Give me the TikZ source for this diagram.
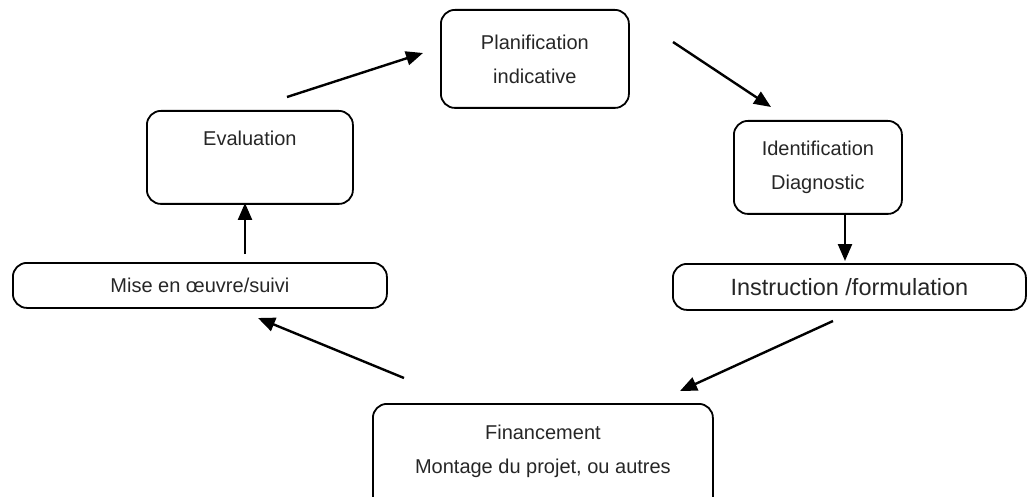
\documentclass[tikz,border=0pt]{standalone}
\usepackage{fontspec}
\setmainfont{Liberation Sans}
\usetikzlibrary{arrows.meta}
\begin{document}
\begin{tikzpicture}[x=1pt,y=-1pt,
  box/.style={draw=black, line width=1.8pt, rounded corners=14pt, inner sep=0pt},
  lbl/.style={font=\fontsize{20}{34}\selectfont, text=black!85, align=center, inner sep=0pt},
  biglbl/.style={font=\fontsize{23.5}{28}\selectfont, text=black!85, align=center, inner sep=0pt},
  arr/.style={line width=2.4pt, -{Triangle[length=17pt,width=14pt]}}]
\useasboundingbox (0,0) rectangle (1036,497);
% boxes
\node[box, minimum width=188, minimum height=98, anchor=north west] (plan) at (440,9) {};
\node[box, minimum width=168, minimum height=93, anchor=north west] (ident) at (733,120) {};
\node[box, minimum width=353, minimum height=46, anchor=north west] (instr) at (672,263) {};
\node[box, minimum width=340, minimum height=110, anchor=north west] (fin) at (372,403) {};
\node[box, minimum width=374, minimum height=45, anchor=north west] (mise) at (12,262) {};
\node[box, minimum width=206, minimum height=93, anchor=north west] (eval) at (146,110) {};
% texts
\node[lbl] (tplan) at (plan.center) {Planification\\indicative};
\node[lbl] (tident) at (ident.center) {Identification\\Diagnostic};
\node[biglbl] (tinstr) at (instr.center) {Instruction /formulation};
\node[lbl, anchor=north] (tfin) at ([yshift=-22]fin.north) {Financement\\Montage du projet, ou autres};
\node[lbl, anchor=north] (teval) at ([yshift=-21]eval.north) {Evaluation};
\node[lbl] (tmise) at (mise.center) {Mise en œuvre/suivi};
% arrow end points
\coordinate (a1s) at (287,97);  \coordinate (a1e) at (423,53);
\coordinate (a2s) at (673,42);  \coordinate (a2e) at (771,107);
\coordinate (a3s) at (845,213); \coordinate (a3e) at (845,261);
\coordinate (a4s) at (833,321); \coordinate (a4e) at (680,391);
\coordinate (a5s) at (404,378); \coordinate (a5e) at (258,318);
\coordinate (a6s) at (245,254); \coordinate (a6e) at (245,203);
\draw[arr] (a1s) -- (a1e);
\draw[arr] (a2s) -- (a2e);
\draw[arr] (a3s) -- (a3e);
\draw[arr] (a4s) -- (a4e);
\draw[arr] (a5s) -- (a5e);
\draw[arr] (a6s) -- (a6e);
\end{tikzpicture}
\end{document}
